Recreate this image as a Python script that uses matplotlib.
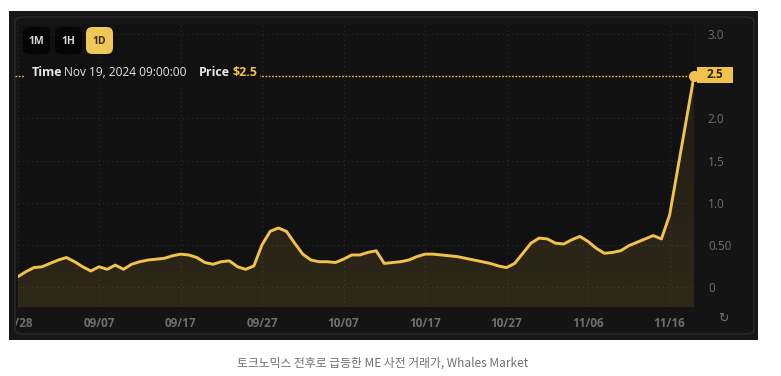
import matplotlib.pyplot as plt
import matplotlib.dates as mdates
import numpy as np
import pandas as pd
from matplotlib.patches import FancyBboxPatch, Rectangle, Polygon
from matplotlib.transforms import Bbox

# ME pre-market price, daily (08/28 - 11/19)
dates = pd.date_range('2024-08-28', '2024-11-19', freq='D')
price = [0.12, 0.18, 0.23, 0.24, 0.28, 0.32, 0.35, 0.30, 0.24, 0.19,
         0.24, 0.21, 0.26, 0.21, 0.27, 0.30, 0.32, 0.33, 0.34, 0.37,
         0.39, 0.38, 0.35, 0.29, 0.27, 0.30, 0.31, 0.24, 0.21, 0.25,
         0.50, 0.66, 0.70, 0.66, 0.52, 0.39, 0.32, 0.30, 0.30, 0.29,
         0.33, 0.38, 0.38, 0.41, 0.43, 0.28, 0.29, 0.30, 0.32, 0.36,
         0.39, 0.39, 0.38, 0.37, 0.36, 0.34, 0.32, 0.30, 0.28, 0.25,
         0.23, 0.28, 0.40, 0.52, 0.58, 0.57, 0.52, 0.51, 0.56, 0.60,
         0.54, 0.46, 0.40, 0.41, 0.43, 0.49, 0.53, 0.57, 0.61, 0.57,
         0.85, 1.40, 1.95, 2.50]
tick_dates = pd.date_range('2024-08-28', '2024-11-19', freq='10D')
y_ticks = [0, 0.5, 1.0, 1.5, 2.0, 3.0]
y_labels = ['0', '0.50', '1.0', '1.5', '2.0', '3.0']
last_price = price[-1]

GOLD = '#f2c34a'
FONT = 'Open Sans'
W, H = 781, 376

fig = plt.figure(figsize=(W / 100, H / 100), dpi=100)
fig.patch.set_facecolor('white')

def px(x0, y0, x1, y1):
    # pixel box (top-left origin) -> figure fraction
    return x0 / W, 1 - y1 / H, (x1 - x0) / W, (y1 - y0) / H

# dark panel + inner rounded frame
x, y, w, h = px(9, 11, 758, 340)
fig.patches.append(Rectangle((x, y), w, h, transform=fig.transFigure,
                             facecolor='#171717', edgecolor='none', zorder=-3))
x, y, w, h = px(15, 17, 754, 334)
fig.patches.append(FancyBboxPatch((x, y), w, h, boxstyle='round,pad=0,rounding_size=0.012',
                                  transform=fig.transFigure, facecolor='#141414',
                                  edgecolor='#272727', lw=1.2, zorder=-2))

ax = fig.add_axes(px(17.5, 25, 694, 307))
ax.set_facecolor('#111111')
xs = mdates.date2num(dates)
ax.set_xlim(xs[0], xs[-1])

# gradient fill under the line
grad = np.zeros((256, 1, 4))
grad[:, 0, :3] = np.array([0.95, 0.76, 0.29])
grad[:, 0, 3] = np.linspace(0.13, 0.06, 256)
img = ax.imshow(grad, aspect='auto', extent=[xs[0], xs[-1], 3.107, -0.237],
                origin='upper', zorder=1)
verts = np.column_stack([np.r_[xs[0], xs, xs[-1]], np.r_[-0.237, price, -0.237]])
clip = Polygon(verts, closed=True, transform=ax.transData, facecolor='none', edgecolor='none')
ax.add_patch(clip)
img.set_clip_path(clip)
ax.set_xlim(xs[0], xs[-1])
ax.set_ylim(-0.237, 3.107)

ax.plot(xs, price, color=GOLD, lw=2.1, solid_joinstyle='round', solid_capstyle='round',
        zorder=3)
ax.axhline(last_price, color=GOLD, lw=1.0, ls=(0, (1.2, 1.2)), zorder=2, clip_on=False,
           xmin=-0.004, xmax=1)
ax.plot(xs[-1], last_price, 'o', color=GOLD, ms=7, zorder=4, clip_on=False)

for s in ax.spines.values():
    s.set_visible(False)
ax.set_xticks(mdates.date2num(tick_dates))
ax.set_xticklabels([d.strftime('%m/%d') for d in tick_dates])
ax.set_yticks(y_ticks)
ax.set_yticklabels(y_labels)
ax.yaxis.tick_right()
ax.tick_params(axis='x', length=0, pad=7, labelsize=8.5, labelcolor='#6f6f6f')
ax.tick_params(axis='y', length=0, pad=10, labelsize=8.5, labelcolor='#6f6f6f')
for lbl in ax.get_xticklabels() + ax.get_yticklabels():
    lbl.set_fontfamily(FONT)
for lbl in ax.get_xticklabels():
    lbl.set_fontweight('bold')
    lbl.set_clip_box(Bbox([[16, 0], [W, H]]))
    lbl.set_clip_on(True)
ax.grid(True, color='#2c2c2c', ls=(0, (1, 3)), lw=0.8)
ax.set_axisbelow(True)

# price tag on the right
x, y, w, h = px(697, 67, 733, 83)
fig.patches.append(Rectangle((x, y), w, h, transform=fig.transFigure,
                             facecolor=GOLD, edgecolor='none', zorder=1))
fig.text((697 + 733) / 2 / W, 1 - 75 / H, '2.5', ha='center', va='center',
         fontsize=8.5, fontweight='bold', color='#2a2208', family=FONT)

# interval buttons
for x0, lab, fc, tc in [(23, '1M', '#050505', '#d8d8d8'), (55, '1H', '#050505', '#d8d8d8'),
                        (86, '1D', '#f0c85a', '#3a2e0a')]:
    x, y, w, h = px(x0, 27, x0 + 27, 54)
    fig.patches.append(FancyBboxPatch((x, y), w, h, transform=fig.transFigure,
                                      boxstyle='round,pad=0,rounding_size=0.008',
                                      mutation_aspect=W / H,
                                      facecolor=fc, edgecolor='none', zorder=1))
    fig.text((x0 + 13.5) / W, 1 - 41 / H, lab, ha='center', va='center',
             fontsize=7.5, fontweight='bold', color=tc, family=FONT)

# crosshair info (covers the dotted line)
x, y, w, h = px(24, 64, 260, 84)
fig.patches.append(Rectangle((x, y), w, h, transform=fig.transFigure,
                             facecolor='#111111', edgecolor='none', zorder=1))
ty = 1 - 73 / H
fig.text(32 / W, ty, 'Time', ha='left', va='center', fontsize=9, fontweight='bold',
         color='#e6e6e6', family=FONT)
fig.text(64 / W, ty, 'Nov 19, 2024 09:00:00', ha='left', va='center', fontsize=8.6,
         color='#e6e6e6', family=FONT)
fig.text(199 / W, ty, 'Price', ha='left', va='center', fontsize=9, fontweight='bold',
         color='#e6e6e6', family=FONT)
fig.text(232 / W, ty, '$2.5', ha='left', va='center', fontsize=9, fontweight='bold',
         color=GOLD, family=FONT)

# refresh icon
fig.text(723 / W, 1 - 318 / H, '\u21bb', ha='center', va='center', fontsize=9,
         color='#707070', family='DejaVu Sans')

# caption
fig.text(383 / W, 1 - 363 / H, '토크노믹스 전후로 급등한 ME 사전 거래가, Whales Market',
         ha='center', va='center', fontsize=8.5, style='italic', color='#707070',
         family=['Noto Sans CJK KR', 'DejaVu Sans'])

fig.savefig('out.png', dpi=100, facecolor='white')
